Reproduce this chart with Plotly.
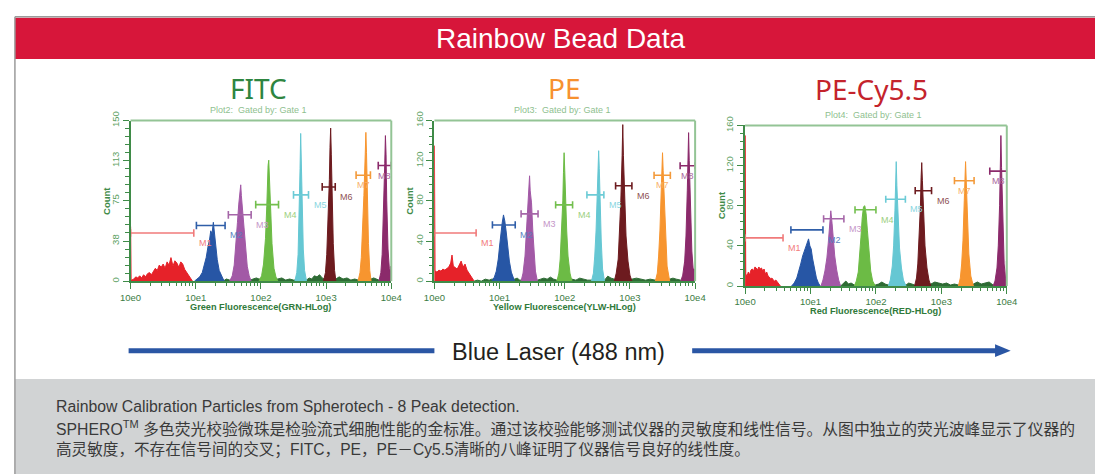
import plotly.graph_objects as go

W, H = 1106, 475

# ---------------------------------------------------------------------------
# Histogram data. X positions are in decades (log10 of fluorescence),
# Y values are event counts.
# ---------------------------------------------------------------------------
GATES = ["M1", "M2", "M3", "M4", "M5", "M6", "M7", "M8"]
DECADE_TICKS = ["10e0", "10e1", "10e2", "10e3", "10e4"]

# ---- FITC (GRN-HLog) ----
FITC_M1_X = [0.0, 0.0, 0.008, 0.008, 0.02, 0.05, 0.08, 0.11, 0.14, 0.17, 0.2, 0.23, 0.26, 0.29, 0.32, 0.35,
             0.38, 0.41, 0.44, 0.47, 0.5, 0.53, 0.56, 0.59, 0.62, 0.65, 0.68, 0.71, 0.74, 0.77,
             0.8, 0.83, 0.86, 0.89, 0.92, 0.95]
FITC_M1_Y = [0, 51, 51, 1, 1, 2, 4, 3, 5, 3, 6, 4, 7, 8, 6, 9, 12, 10, 15, 13, 16, 12, 18, 15, 22, 14, 19,
             17, 13, 18, 16, 11, 8, 6, 3, 0]
FITC_M2_X = [0.98, 1.02, 1.06, 1.10, 1.13, 1.16, 1.19, 1.21, 1.23, 1.25, 1.27, 1.29, 1.31, 1.33, 1.36, 1.39, 1.42, 1.44]
FITC_M2_Y = [0, 2, 4, 8, 14, 22, 33, 38, 47, 44, 55, 42, 35, 20, 10, 5, 2, 0]
FITC_M3_X = [1.52, 1.56, 1.59, 1.62, 1.64, 1.66, 1.68, 1.69, 1.70, 1.72, 1.74, 1.76, 1.79, 1.82, 1.85]
FITC_M3_Y = [0, 5, 15, 35, 55, 72, 85, 90, 80, 66, 48, 30, 14, 5, 0]
FITC_M4_X = [1.97, 2.01, 2.04, 2.07, 2.09, 2.10, 2.11, 2.12, 2.13, 2.15, 2.17, 2.20, 2.23, 2.26]
FITC_M4_Y = [0, 5, 16, 40, 70, 95, 108, 113, 95, 62, 35, 12, 4, 0]
FITC_M5_X = [2.52, 2.55, 2.57, 2.59, 2.60, 2.61, 2.62, 2.63, 2.65, 2.67, 2.70]
FITC_M5_Y = [0, 8, 25, 65, 105, 138, 112, 70, 30, 10, 0]
FITC_M6_X = [2.96, 2.99, 3.01, 3.03, 3.05, 3.06, 3.07, 3.08, 3.09, 3.11, 3.13, 3.15]
FITC_M6_Y = [0, 8, 25, 55, 95, 125, 143, 118, 75, 35, 10, 0]
FITC_M7_X = [3.49, 3.52, 3.54, 3.56, 3.58, 3.60, 3.61, 3.62, 3.63, 3.65, 3.67, 3.69]
FITC_M7_Y = [0, 8, 22, 45, 80, 118, 139, 120, 80, 35, 10, 0]
FITC_M8_X = [3.81, 3.84, 3.86, 3.88, 3.90, 3.91, 3.92, 3.93, 3.95, 3.97, 3.99, 3.995, 4.0]
FITC_M8_Y = [0, 8, 25, 60, 110, 136, 118, 75, 30, 12, 8, 14, 0]
FITC_BG_X = [1.42, 1.47, 1.52, 1.84, 1.88, 1.93, 1.97, 2.26, 2.32, 2.38, 2.44, 2.50, 2.70, 2.74, 2.78,
             2.82, 2.86, 2.90, 2.94, 2.97, 3.15, 3.20, 3.26, 3.32, 3.38, 3.44, 3.49, 3.69, 3.73, 3.77, 3.81]
FITC_BG_Y = [0, 2, 1, 1, 2, 3, 2, 2, 3, 1, 2, 1, 1, 3, 2, 5, 4, 6, 3, 2, 2, 4, 2, 3, 1, 2, 1, 2, 3, 2, 1]
FITC_GATE_LO = [0.0, 1.01, 1.50, 1.92, 2.50, 2.94, 3.46, 3.80]
FITC_GATE_HI = [0.97, 1.45, 1.85, 2.27, 2.73, 3.14, 3.68, 4.0]
FITC_GATE_LEVEL = [45, 52, 62, 71.5, 80.6, 88, 99, 108]
FITC_Y_TICKS = [0, 37.5, 75, 112.5, 150]
FITC_Y_LABELS = ["0", "38", "75", "113", "150"]

# ---- PE (YLW-HLog) ----
PE_M1_X = [0.0, 0.0, 0.008, 0.008, 0.01, 0.04, 0.07, 0.10, 0.13, 0.16, 0.19, 0.22, 0.25, 0.27, 0.29, 0.32,
           0.35, 0.38, 0.41, 0.44, 0.47, 0.5, 0.53, 0.56, 0.59, 0.61]
PE_M1_Y = [0, 135, 135, 10, 10, 9, 11, 10, 12, 11, 13, 14, 18, 26, 15, 13, 12, 16, 20, 14, 17, 11, 8, 6, 3, 0]
PE_M2_X = [0.88, 0.92, 0.95, 0.98, 1.00, 1.02, 1.04, 1.06, 1.08, 1.10, 1.12, 1.15, 1.18, 1.21, 1.23]
PE_M2_Y = [0, 4, 10, 22, 35, 48, 58, 66, 60, 50, 35, 20, 9, 3, 0]
PE_M3_X = [1.33, 1.36, 1.39, 1.41, 1.43, 1.45, 1.46, 1.47, 1.49, 1.51, 1.53, 1.55, 1.58]
PE_M3_Y = [0, 8, 25, 45, 70, 92, 105, 90, 78, 50, 28, 10, 0]
PE_M4_X = [1.88, 1.91, 1.93, 1.95, 1.97, 1.98, 1.99, 2.00, 2.01, 2.03, 2.05, 2.08, 2.11]
PE_M4_Y = [0, 8, 22, 45, 80, 108, 128, 110, 85, 50, 25, 8, 0]
PE_M5_X = [2.41, 2.44, 2.46, 2.48, 2.50, 2.51, 2.52, 2.53, 2.54, 2.56, 2.58, 2.61]
PE_M5_Y = [0, 8, 25, 50, 90, 115, 130, 112, 80, 40, 12, 0]
PE_M6_X = [2.76, 2.79, 2.82, 2.84, 2.86, 2.88, 2.89, 2.90, 2.92, 2.94, 2.97, 3.00, 3.03]
PE_M6_Y = [0, 8, 22, 45, 80, 125, 156, 125, 80, 45, 20, 6, 0]
PE_M7_X = [3.39, 3.42, 3.44, 3.46, 3.48, 3.49, 3.50, 3.51, 3.53, 3.55, 3.57, 3.61]
PE_M7_Y = [0, 8, 25, 50, 90, 112, 128, 110, 75, 40, 15, 0]
PE_M8_X = [3.78, 3.81, 3.84, 3.86, 3.88, 3.89, 3.90, 3.91, 3.93, 3.95, 3.97, 3.99, 4.0]
PE_M8_Y = [0, 6, 20, 45, 90, 125, 148, 120, 70, 30, 12, 12, 0]
PE_BG_X = [0.61, 0.66, 0.72, 0.78, 0.84, 0.88, 1.23, 1.27, 1.31, 1.33, 1.58, 1.63, 1.68, 1.73, 1.78,
           1.83, 1.88, 2.11, 2.17, 2.23, 2.29, 2.35, 2.41, 2.61, 2.66, 2.71, 2.76, 3.03, 3.10, 3.17,
           3.24, 3.31, 3.39, 3.61, 3.66, 3.71, 3.78]
PE_BG_Y = [0, 1, 0, 2, 1, 2, 2, 3, 1, 1, 1, 2, 3, 2, 4, 2, 1, 2, 1, 3, 2, 1, 1, 1, 5, 3, 2, 2, 3, 2,
           1, 2, 1, 2, 3, 2, 1]
PE_GATE_LO = [0.0, 0.89, 1.33, 1.86, 2.34, 2.78, 3.37, 3.77]
PE_GATE_HI = [0.64, 1.24, 1.59, 2.12, 2.60, 3.03, 3.62, 4.0]
PE_GATE_LEVEL = [48, 56, 67, 76, 86, 95, 105.5, 115]
PE_Y_TICKS = [0, 40, 80, 120, 160]
PE_Y_LABELS = ["0", "40", "80", "120", "160"]

# ---- PE-Cy5.5 (RED-HLog) ----
CY_M1_X = [0.0, 0.0, 0.008, 0.008, 0.01, 0.03, 0.05, 0.07, 0.09, 0.11, 0.13, 0.15, 0.17, 0.19, 0.21, 0.23,
           0.25, 0.27, 0.29, 0.31, 0.33, 0.35, 0.37, 0.39, 0.41, 0.43, 0.45, 0.47, 0.49, 0.51, 0.54]
CY_M1_Y = [0, 150, 150, 12, 12, 10, 14, 11, 16, 17, 15, 19, 18, 16, 19, 17, 18, 15, 17, 12, 14, 10, 9,
           7, 8, 6, 5, 6, 4, 3, 0]
CY_M2_X = [0.71, 0.75, 0.79, 0.82, 0.85, 0.88, 0.91, 0.93, 0.95, 0.97, 0.99, 1.01, 1.03, 1.06, 1.09, 1.12, 1.15]
CY_M2_Y = [0, 3, 8, 14, 22, 30, 36, 38, 42, 47, 40, 37, 28, 18, 8, 3, 0]
CY_M3_X = [1.16, 1.19, 1.22, 1.25, 1.27, 1.29, 1.31, 1.33, 1.35, 1.37, 1.40, 1.43, 1.46]
CY_M3_Y = [0, 6, 15, 28, 42, 60, 75, 62, 45, 30, 16, 6, 0]
CY_M4_X = [1.67, 1.70, 1.73, 1.75, 1.77, 1.79, 1.81, 1.83, 1.85, 1.87, 1.89, 1.92, 1.95, 1.99]
CY_M4_Y = [0, 5, 14, 28, 48, 68, 79, 80, 72, 55, 35, 15, 5, 0]
CY_M5_X = [2.19, 2.22, 2.25, 2.27, 2.29, 2.30, 2.31, 2.32, 2.34, 2.36, 2.39, 2.42, 2.46]
CY_M5_Y = [0, 6, 20, 40, 75, 105, 124, 100, 65, 38, 18, 6, 0]
CY_M6_X = [2.59, 2.62, 2.64, 2.66, 2.68, 2.69, 2.70, 2.71, 2.73, 2.75, 2.78, 2.81, 2.84]
CY_M6_Y = [0, 8, 22, 45, 80, 108, 123, 105, 70, 40, 18, 6, 0]
CY_M7_X = [3.26, 3.29, 3.31, 3.33, 3.35, 3.36, 3.37, 3.38, 3.40, 3.42, 3.45, 3.49]
CY_M7_Y = [0, 8, 22, 45, 85, 110, 124, 105, 65, 32, 10, 0]
CY_M8_X = [3.79, 3.82, 3.85, 3.87, 3.89, 3.90, 3.91, 3.92, 3.94, 3.96, 3.98, 3.99, 3.995, 4.0]
CY_M8_Y = [0, 5, 18, 40, 80, 120, 150, 118, 60, 22, 8, 6, 25, 0]
CY_BG_X = [1.46, 1.50, 1.54, 1.58, 1.62, 1.67, 1.99, 2.04, 2.09, 2.14, 2.19, 2.46, 2.50, 2.55, 2.59,
           2.84, 2.90, 2.96, 3.02, 3.08, 3.14, 3.20, 3.26, 3.49, 3.55, 3.61, 3.67, 3.73, 3.79]
CY_BG_Y = [0, 3, 5, 2, 3, 1, 1, 2, 4, 2, 1, 1, 3, 2, 1, 2, 4, 3, 2, 3, 1, 2, 1, 2, 4, 2, 3, 4, 1]
CY_GATE_LO = [0.0, 0.70, 1.20, 1.68, 2.15, 2.60, 3.20, 3.74]
CY_GATE_HI = [0.58, 1.19, 1.51, 2.0, 2.45, 2.85, 3.50, 4.0]
CY_GATE_LEVEL = [48, 56, 67, 76, 86.5, 95, 105, 114.5]
CY_Y_TICKS = [0, 40, 80, 120, 160]
CY_Y_LABELS = ["0", "40", "80", "120", "160"]

# ---------------------------------------------------------------------------
# Styling
# ---------------------------------------------------------------------------
PEAK_COLORS = ["#e62229", "#2756a5", "#a259a6", "#6cbb45", "#65c7d3", "#6d1b1f", "#f7952f", "#8b2a6b"]
BAR_COLORS = ["#f07a7a", "#2f5ea8", "#a566a8", "#73bf4e", "#6ccbd6", "#6d1b1f", "#f39a3a", "#8b2a6b"]
LABEL_COLORS = ["#f27c7c", "#5a7fbf", "#c596c8", "#9dcf80", "#8ad6df", "#8f5254", "#f7b06a", "#a9669a"]
BG_COLOR = "#2e6b34"
AXIS_COLOR = "#3f8b48"
FRAME_LIGHT = "#93c495"
TICK_X_COLOR = "#3b7c43"
TICK_Y_COLOR = "#5e9f63"
SUB_COLOR = "#8fbf90"
CAP = 3.6  # half height of the gate end caps, in counts

LAT = "Liberation Sans, Arial, sans-serif"
TITLE_FONT = "Noto Sans, Open Sans, sans-serif"
CJK = "Liberation Sans, Noto Sans CJK SC, sans-serif"


def px(x):
    return x / W


def py(y):
    return 1 - y / H


panels = [
    dict(title="FITC", tcolor="#2e8540", sub="Plot2:  Gated by: Gate 1",
         xtitle="Green Fluorescence(GRN-HLog)",
         box=(122, 388, 114, 278), title_pos=(253, 81), sub_pos=(253, 103),
         count_x=98, xtitle_y=304, ymax=150, yticks=FITC_Y_TICKS, ylabels=FITC_Y_LABELS,
         minor_dy=7.5,
         peaks=[(FITC_M1_X, FITC_M1_Y), (FITC_M2_X, FITC_M2_Y), (FITC_M3_X, FITC_M3_Y),
                (FITC_M4_X, FITC_M4_Y), (FITC_M5_X, FITC_M5_Y), (FITC_M6_X, FITC_M6_Y),
                (FITC_M7_X, FITC_M7_Y), (FITC_M8_X, FITC_M8_Y)],
         bg=(FITC_BG_X, FITC_BG_Y),
         gates=(FITC_GATE_LO, FITC_GATE_HI, FITC_GATE_LEVEL)),
    dict(title="PE", tcolor="#f7912f", sub="Plot3:  Gated by: Gate 1",
         xtitle="Yellow Fluorescence(YLW-HLog)",
         box=(432, 698, 114, 278), title_pos=(565, 81), sub_pos=(563, 103),
         count_x=407, xtitle_y=304, ymax=160, yticks=PE_Y_TICKS, ylabels=PE_Y_LABELS,
         minor_dy=8,
         peaks=[(PE_M1_X, PE_M1_Y), (PE_M2_X, PE_M2_Y), (PE_M3_X, PE_M3_Y), (PE_M4_X, PE_M4_Y),
                (PE_M5_X, PE_M5_Y), (PE_M6_X, PE_M6_Y), (PE_M7_X, PE_M7_Y), (PE_M8_X, PE_M8_Y)],
         bg=(PE_BG_X, PE_BG_Y),
         gates=(PE_GATE_LO, PE_GATE_HI, PE_GATE_LEVEL)),
    dict(title="PE-Cy5.5", tcolor="#c4232c", sub="Plot4:  Gated by: Gate 1",
         xtitle="Red Fluorescence(RED-HLog)",
         box=(749, 1016, 119, 283), title_pos=(878, 82), sub_pos=(880, 108),
         count_x=725, xtitle_y=309, ymax=160, yticks=CY_Y_TICKS, ylabels=CY_Y_LABELS,
         minor_dy=8,
         peaks=[(CY_M1_X, CY_M1_Y), (CY_M2_X, CY_M2_Y), (CY_M3_X, CY_M3_Y), (CY_M4_X, CY_M4_Y),
                (CY_M5_X, CY_M5_Y), (CY_M6_X, CY_M6_Y), (CY_M7_X, CY_M7_Y), (CY_M8_X, CY_M8_Y)],
         bg=(CY_BG_X, CY_BG_Y),
         gates=(CY_GATE_LO, CY_GATE_HI, CY_GATE_LEVEL)),
]

fig = go.Figure()
annotations = []
shapes = []
major_x = [10 ** d for d in range(5)]
minor_x = [m * 10 ** d for d in range(4) for m in range(2, 10)]

for i, p in enumerate(panels):
    n = "" if i == 0 else str(i + 1)
    xa, ya = "x" + n, "y" + n
    x0, x1, y0, y1 = p["box"]

    # low-level background events
    bx, by = p["bg"]
    fig.add_trace(go.Scatter(
        x=[10 ** v for v in bx], y=by, xaxis=xa, yaxis=ya, mode="lines",
        fill="tozeroy", fillcolor=BG_COLOR, line=dict(color=BG_COLOR, width=1),
        hoverinfo="skip", showlegend=False))

    # peak histograms
    for k, (hx, hy) in enumerate(p["peaks"]):
        fig.add_trace(go.Scatter(
            x=[10 ** v for v in hx], y=hy, xaxis=xa, yaxis=ya, mode="lines",
            fill="toself", fillcolor=PEAK_COLORS[k],
            line=dict(color=PEAK_COLORS[k], width=1), hoverinfo="skip", showlegend=False))

    # gate markers M1..M8
    lo, hi, lvl = p["gates"]
    for k in range(len(GATES)):
        gx = [10 ** lo[k], 10 ** lo[k], None, 10 ** lo[k], 10 ** hi[k], None, 10 ** hi[k], 10 ** hi[k]]
        gy = [lvl[k] - CAP, lvl[k] + CAP, None, lvl[k], lvl[k], None, lvl[k] - CAP, lvl[k] + CAP]
        fig.add_trace(go.Scatter(
            x=gx, y=gy, xaxis=xa, yaxis=ya, mode="lines",
            line=dict(color=BAR_COLORS[k], width=1.6), hoverinfo="skip", showlegend=False))
        under = k >= 6
        annotations.append(dict(
            xref=xa, yref=ya, x=(lo[k] + hi[k]) / 2 if under else hi[k], y=lvl[k],
            text=GATES[k], showarrow=False, xanchor="center" if under else "left",
            yanchor="middle", xshift=0 if under else 3, yshift=-10,
            font=dict(family=LAT, size=9, color=LABEL_COLORS[k])))

    dom_x = [px(x0), px(x1)]
    dom_y = [py(y1), py(y0)]
    fig.layout["xaxis" + n] = dict(
        domain=dom_x, anchor=ya, type="log", range=[0, 4], tickvals=major_x, ticktext=DECADE_TICKS,
        ticks="outside", ticklen=6, tickwidth=1.3, tickcolor=AXIS_COLOR,
        showline=True, linecolor=AXIS_COLOR, linewidth=2, showgrid=False, zeroline=False,
        tickfont=dict(family=LAT, size=9.5, color=TICK_X_COLOR),
        minor=dict(tickvals=minor_x, ticks="outside", ticklen=3, tickwidth=1, tickcolor=AXIS_COLOR,
                   showgrid=False))
    fig.layout["yaxis" + n] = dict(
        domain=dom_y, anchor=xa, range=[0, p["ymax"]], tickvals=p["yticks"], ticktext=p["ylabels"],
        tickangle=-90, ticks="outside", ticklen=6, tickwidth=1.3, tickcolor=AXIS_COLOR,
        showline=True, linecolor=AXIS_COLOR, linewidth=2, showgrid=False, zeroline=False,
        tickfont=dict(family=LAT, size=9.5, color=TICK_Y_COLOR),
        minor=dict(dtick=p["minor_dy"], tick0=0, ticks="outside", ticklen=3.5, tickwidth=1,
                   tickcolor=AXIS_COLOR, showgrid=False))

    # lighter top and right frame
    shapes.append(dict(type="line", xref=xa + " domain", yref=ya + " domain", x0=0, x1=1, y0=1, y1=1,
                       line=dict(color=FRAME_LIGHT, width=2)))
    shapes.append(dict(type="line", xref=xa + " domain", yref=ya + " domain", x0=1, x1=1, y0=0, y1=1,
                       line=dict(color=FRAME_LIGHT, width=2)))

    tx, ty = p["title_pos"]
    annotations.append(dict(xref="paper", yref="paper", x=px(tx), y=py(ty), text=p["title"],
                            showarrow=False, xanchor="center", yanchor="middle",
                            font=dict(family=TITLE_FONT, size=28, color=p["tcolor"])))
    sx, sy = p["sub_pos"]
    annotations.append(dict(xref="paper", yref="paper", x=px(sx), y=py(sy), text=p["sub"],
                            showarrow=False, xanchor="center", yanchor="middle",
                            font=dict(family=LAT, size=9, color=SUB_COLOR)))
    annotations.append(dict(xref="paper", yref="paper", x=px(p["count_x"]), y=py((y0 + y1) / 2),
                            text="<b>Count</b>", textangle=-90, showarrow=False,
                            xanchor="center", yanchor="middle",
                            font=dict(family=LAT, size=9.5, color=AXIS_COLOR)))
    annotations.append(dict(xref="paper", yref="paper", x=px((x0 + x1) / 2), y=py(p["xtitle_y"]),
                            text="<b>" + p["xtitle"] + "</b>", showarrow=False,
                            xanchor="center", yanchor="middle",
                            font=dict(family=LAT, size=9.2, color="#2f7a3a")))

# ---- page furniture: header banner, frame, laser arrow, caption box ----
shapes += [
    dict(type="rect", xref="paper", yref="paper", x0=px(4), x1=1, y0=py(51), y1=py(9),
         fillcolor="#d7163a", line=dict(width=0), layer="below"),
    dict(type="rect", xref="paper", yref="paper", x0=px(4), x1=1, y0=0, y1=py(378),
         fillcolor="#d1d3d4", line=dict(width=0), layer="below"),
    dict(type="line", xref="paper", yref="paper", x0=px(4), x1=1, y0=py(8), y1=py(8),
         line=dict(color="#9b9b9b", width=1.5)),
    dict(type="line", xref="paper", yref="paper", x0=px(4), x1=px(4), y0=0, y1=py(8),
         line=dict(color="#9b9b9b", width=1.5)),
    dict(type="line", xref="paper", yref="paper", x0=px(120), x1=px(432), y0=py(349), y1=py(349),
         line=dict(color="#2a56a4", width=5)),
    dict(type="line", xref="paper", yref="paper", x0=px(695), x1=px(1006), y0=py(349), y1=py(349),
         line=dict(color="#2a56a4", width=5)),
    dict(type="path", xref="paper", yref="paper",
         path="M {:.5f},{:.5f} L {:.5f},{:.5f} L {:.5f},{:.5f} Z".format(
             px(1004), py(342.5), px(1020), py(349), px(1004), py(355.5)),
         fillcolor="#2a56a4", line=dict(width=0)),
]

annotations += [
    dict(xref="paper", yref="paper", x=px(561), y=py(30), text="Rainbow Bead Data", showarrow=False,
         xanchor="center", yanchor="middle", font=dict(family=LAT, size=28, color="white")),
    dict(xref="paper", yref="paper", x=px(559), y=py(350), text="Blue Laser (488 nm)", showarrow=False,
         xanchor="center", yanchor="middle", font=dict(family=LAT, size=23.5, color="#231f20")),
    dict(xref="paper", yref="paper", x=px(44), y=py(406),
         text="Rainbow Calibration Particles from Spherotech - 8 Peak detection.", showarrow=False,
         xanchor="left", yanchor="middle", font=dict(family=LAT, size=15.8, color="#3a3a3a")),
    dict(xref="paper", yref="paper", x=px(44), y=py(428),
         text="SPHERO<sup>TM</sup> 多色荧光校验微珠是检验流式细胞性能的金标准。通过该校验能够测试仪器的灵敏度和线性信号。从图中独立的荧光波峰显示了仪器的",
         showarrow=False, xanchor="left", yanchor="middle",
         font=dict(family=CJK, size=15.8, color="#3a3a3a")),
    dict(xref="paper", yref="paper", x=px(44), y=py(450),
         text="高灵敏度，不存在信号间的交叉；FITC，PE，PE－Cy5.5清晰的八峰证明了仪器信号良好的线性度。",
         showarrow=False, xanchor="left", yanchor="middle",
         font=dict(family=CJK, size=15.6, color="#3a3a3a")),
]

fig.update_layout(
    width=W, height=H, margin=dict(l=0, r=0, t=0, b=0),
    paper_bgcolor="white", plot_bgcolor="rgba(0,0,0,0)",
    showlegend=False, shapes=shapes, annotations=annotations,
)

fig.write_html("out.html")
